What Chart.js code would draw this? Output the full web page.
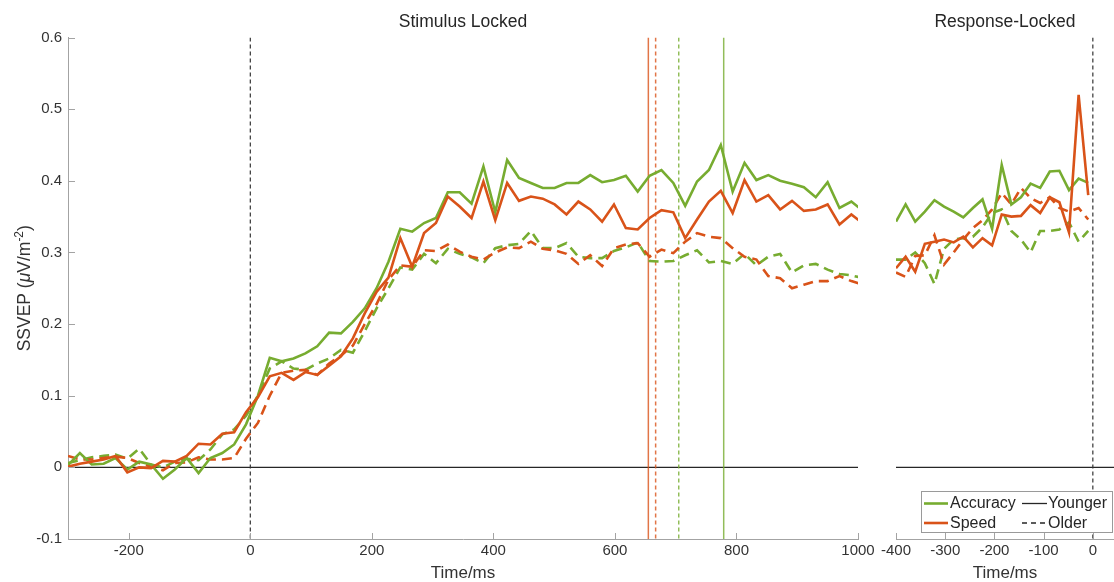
<!DOCTYPE html>
<html>
<head>
<meta charset="utf-8">
<title>SSVEP by condition and age group</title>
<script src="https://cdn.jsdelivr.net/npm/chart.js@4.4.1/dist/chart.umd.min.js"></script>
<style>
  html, body { margin: 0; padding: 0; background: #fff; overflow: hidden; }
  #wrap { position: relative; width: 1114px; height: 582px; }
  #stim { position: absolute; left: 0; top: 0; }
  #resp { position: absolute; left: 870px; top: 0; }
</style>
</head>
<body>
<div id="wrap">
  <canvas id="stim" width="886" height="582"></canvas>
  <canvas id="resp" width="244" height="582"></canvas>
</div>
<script>
// ---- sampling grid (51.2 Hz) ----
const SAMPLE_MS = 1000 / 51.2;
const STIM_START_MS = -300;
const RESP_START_MS = -400;

// ---- legend / grouping ----
const conditions = ['Accuracy', 'Speed'];
const groups = ['Younger', 'Older'];

// ---- stimulus-locked SSVEP (uV/m^2) ----
const accYoungStim = [
  0.003, 0.020, 0.004, 0.005, 0.013, -0.003, 0.008, 0.004, -0.016, -0.003,
  0.013, -0.008, 0.013, 0.020, 0.032, 0.060, 0.100, 0.153, 0.148, 0.152,
  0.159, 0.169, 0.188, 0.187, 0.203, 0.222, 0.250, 0.287, 0.333, 0.329,
  0.341, 0.348, 0.384, 0.384, 0.368, 0.420, 0.356, 0.429, 0.404, 0.397,
  0.390, 0.390, 0.397, 0.397, 0.408, 0.398, 0.401, 0.407, 0.385, 0.407,
  0.415, 0.397, 0.365, 0.399, 0.415, 0.450, 0.385, 0.425, 0.401, 0.408,
  0.400, 0.396, 0.391, 0.377, 0.398, 0.362, 0.371, 0.358
];
const spdYoungStim = [
  0.001, 0.005, 0.008, 0.011, 0.016, -0.007, 0.000, -0.001, 0.009, 0.008,
  0.016, 0.033, 0.032, 0.047, 0.049, 0.077, 0.098, 0.127, 0.132, 0.122,
  0.133, 0.129, 0.142, 0.155, 0.180, 0.215, 0.245, 0.265, 0.320, 0.280,
  0.327, 0.341, 0.378, 0.364, 0.348, 0.399, 0.345, 0.397, 0.372, 0.378,
  0.375, 0.367, 0.353, 0.371, 0.360, 0.343, 0.367, 0.334, 0.332, 0.348,
  0.359, 0.356, 0.320, 0.346, 0.371, 0.386, 0.355, 0.401, 0.371, 0.380,
  0.360, 0.372, 0.358, 0.360, 0.367, 0.339, 0.353, 0.340
];
const accOldStim = [
  0.006, 0.010, 0.014, 0.016, 0.018, 0.012, 0.026, 0.004, 0.000, 0.008,
  0.012, 0.010, 0.025, 0.046, 0.053, 0.072, 0.100, 0.138, 0.148, 0.138,
  0.136, 0.145, 0.152, 0.164, 0.160, 0.190, 0.222, 0.250, 0.279, 0.276,
  0.298, 0.285, 0.305, 0.298, 0.293, 0.285, 0.306, 0.310, 0.312, 0.330,
  0.306, 0.306, 0.313, 0.294, 0.292, 0.292, 0.302, 0.307, 0.314, 0.288,
  0.287, 0.288, 0.296, 0.303, 0.286, 0.288, 0.284, 0.298, 0.282, 0.294,
  0.298, 0.272, 0.282, 0.284, 0.276, 0.270, 0.268, 0.264
];
const spdOldStim = [
  0.016, 0.011, 0.011, 0.013, 0.015, 0.013, 0.006, 0.001, -0.004, 0.006,
  0.007, 0.014, 0.011, 0.011, 0.013, 0.040, 0.062, 0.100, 0.132, 0.135,
  0.136, 0.129, 0.145, 0.156, 0.170, 0.200, 0.228, 0.262, 0.282, 0.280,
  0.303, 0.302, 0.311, 0.301, 0.294, 0.290, 0.300, 0.307, 0.306, 0.315,
  0.305, 0.303, 0.298, 0.284, 0.296, 0.281, 0.306, 0.311, 0.313, 0.294,
  0.304, 0.299, 0.315, 0.327, 0.322, 0.320, 0.306, 0.294, 0.290, 0.267,
  0.264, 0.250, 0.255, 0.260, 0.260, 0.267, 0.260, 0.255
];

// ---- response-locked SSVEP ----
const accYoungResp = [0.343, 0.367, 0.343, 0.357, 0.373, 0.364, 0.357, 0.349, 0.362, 0.374, 0.333,
                      0.422, 0.367, 0.377, 0.396, 0.390, 0.413, 0.414, 0.387, 0.403, 0.397];
const spdYoungResp = [0.278, 0.294, 0.273, 0.312, 0.315, 0.318, 0.314, 0.322, 0.307, 0.320, 0.310,
                      0.353, 0.350, 0.351, 0.366, 0.355, 0.377, 0.370, 0.328, 0.520, 0.380];
const accOldResp   = [0.290, 0.290, 0.300, 0.285, 0.256, 0.305, 0.318, 0.320, 0.322, 0.335, 0.355,
                      0.360, 0.330, 0.318, 0.300, 0.330, 0.330, 0.332, 0.342, 0.315, 0.330];
const spdOldResp   = [0.272, 0.266, 0.295, 0.296, 0.324, 0.283, 0.300, 0.318, 0.334, 0.345, 0.360,
                      0.383, 0.367, 0.390, 0.376, 0.369, 0.377, 0.362, 0.357, 0.362, 0.346];

// ---- mean response times (ms) ----
const rtConditions = ['Speed', 'Speed', 'Accuracy', 'Accuracy'];
const rtGroups     = ['Younger', 'Older', 'Older', 'Younger'];
const rtValues     = [655, 667, 705, 779];

// ---- axes ----
const yTickValues = [-0.1, 0, 0.1, 0.2, 0.3, 0.4, 0.5, 0.6];
const stimTickValues = [-200, 0, 200, 400, 600, 800, 1000];
const respTickValues = [-400, -300, -200, -100, 0];

const stimTimes = accYoungStim.map((_, i) => STIM_START_MS + i * SAMPLE_MS);
const respTimes = accYoungResp.map((_, i) => RESP_START_MS + i * SAMPLE_MS);

// ---- styling ----
const FONT = '"Liberation Sans", Arial, Helvetica, sans-serif';
const COLORS = { Accuracy: '#77AC30', Speed: '#D95319' };
const RT_COLORS = { Accuracy: 'rgba(119,172,48,0.8)', Speed: 'rgba(217,83,25,0.8)' };
const AXIS_COLOR = '#a3a3a3';
const TEXT_COLOR = '#333333';
const INK = '#262626';
const DATA_DASH = [10, 6];
const THIN_DASH = [4, 3];
const PLOT_TOP = 37.5;
const XAXIS_H = 43;

Chart.defaults.font.family = FONT;

function series(times, vals, cond, group) {
  return {
    label: cond + ' ' + group,
    data: vals.map((v, i) => ({ x: times[i], y: v })),
    borderColor: COLORS[cond],
    borderWidth: 2.6,
    borderDash: group === 'Older' ? DATA_DASH : [],
    pointRadius: 0,
    tension: 0,
    fill: false
  };
}
function vline(t, color, dash, width) {
  return {
    data: [{ x: t, y: yTickValues[yTickValues.length - 1] }, { x: t, y: yTickValues[0] }],
    borderColor: color, borderWidth: width, borderDash: dash,
    pointRadius: 0, fill: false
  };
}
function hline(x0, x1, y) {
  return {
    data: [{ x: x0, y: y }, { x: x1, y: y }],
    borderColor: INK, borderWidth: 1.3, pointRadius: 0, fill: false
  };
}

function fixedTicks(values) {
  return s => { s.ticks = values.map(v => ({ value: v })); };
}

// inward tick marks
function drawInwardTicks(chart, xValues, withY) {
  const { ctx, chartArea: a, scales: { x, y } } = chart;
  ctx.save();
  ctx.strokeStyle = AXIS_COLOR;
  ctx.lineWidth = 1;
  ctx.beginPath();
  xValues.forEach(v => {
    const px = Math.round(x.getPixelForValue(v)) + 0.5;
    ctx.moveTo(px, a.bottom);
    ctx.lineTo(px, a.bottom - 6);
  });
  if (withY) {
    yTickValues.forEach(v => {
      const py = Math.round(y.getPixelForValue(v)) + 0.5;
      ctx.moveTo(a.left, py);
      ctx.lineTo(a.left + 7, py);
    });
  }
  ctx.stroke();
  ctx.restore();
}

function drawPanelTitle(chart, text) {
  const { ctx, chartArea: a } = chart;
  ctx.save();
  ctx.fillStyle = INK;
  ctx.font = '17.5px ' + FONT;
  ctx.textAlign = 'center';
  ctx.textBaseline = 'middle';
  ctx.fillText(text, (a.left + a.right) / 2, 22);
  ctx.restore();
}

// SSVEP (μV/m^-2), rotated, with italic mu and a superscript
function drawYLabel(chart) {
  const { ctx, chartArea: a } = chart;
  const base = '17.5px ' + FONT;
  const parts = [
    { t: 'SSVEP (', f: base, dy: 0 },
    { t: '\u03BC', f: 'italic ' + base, dy: 0 },
    { t: 'V/m', f: base, dy: 0 },
    { t: '-2', f: '12px ' + FONT, dy: -7 },
    { t: ')', f: base, dy: 0 }
  ];
  ctx.save();
  let total = 0;
  parts.forEach(p => { ctx.font = p.f; p.w = ctx.measureText(p.t).width; total += p.w; });
  ctx.translate(30, (a.top + a.bottom) / 2);
  ctx.rotate(-Math.PI / 2);
  ctx.fillStyle = TEXT_COLOR;
  ctx.textBaseline = 'alphabetic';
  ctx.textAlign = 'left';
  let xx = -total / 2;
  parts.forEach(p => { ctx.font = p.f; ctx.fillText(p.t, xx, p.dy); xx += p.w; });
  ctx.restore();
}

function drawLegend(chart) {
  const { ctx, chartArea: a } = chart;
  const boxR = a.right - 2, boxB = a.bottom - 7;
  const boxW = 191, boxH = 41;
  const boxL = boxR - boxW, boxT = boxB - boxH;
  ctx.save();
  ctx.fillStyle = '#ffffff';
  ctx.fillRect(boxL, boxT, boxW, boxH);
  ctx.strokeStyle = '#9a9a9a';
  ctx.lineWidth = 1;
  ctx.strokeRect(Math.round(boxL) + 0.5, Math.round(boxT) + 0.5, Math.round(boxW), Math.round(boxH));
  ctx.font = '16px ' + FONT;
  ctx.textBaseline = 'middle';
  ctx.textAlign = 'left';
  const rows = [boxT + 12.5, boxT + 32];
  const col1 = boxL + 3, col2 = boxL + 101;
  conditions.forEach((c, i) => {
    ctx.strokeStyle = COLORS[c];
    ctx.lineWidth = 2.6;
    ctx.setLineDash([]);
    ctx.beginPath(); ctx.moveTo(col1, rows[i]); ctx.lineTo(col1 + 24, rows[i]); ctx.stroke();
    ctx.fillStyle = INK;
    ctx.fillText(c, col1 + 26, rows[i] + 0.5);
  });
  groups.forEach((g, i) => {
    ctx.strokeStyle = INK;
    ctx.lineWidth = 1.3;
    ctx.setLineDash(g === 'Older' ? [5, 4] : []);
    ctx.beginPath(); ctx.moveTo(col2, rows[i]); ctx.lineTo(col2 + 25, rows[i]); ctx.stroke();
    ctx.fillStyle = INK;
    ctx.fillText(g, col2 + 26, rows[i] + 0.5);
  });
  ctx.restore();
}

function xAxis(min, max, tickValues) {
  return {
    type: 'linear', min: min, max: max,
    afterBuildTicks: fixedTicks(tickValues),
    grid: { display: false, drawTicks: false },
    border: { display: true, color: AXIS_COLOR, width: 1 },
    ticks: { color: TEXT_COLOR, font: { size: 15 }, padding: 3, maxRotation: 0, minRotation: 0, autoSkip: false,
             callback: v => String(v) },
    title: { display: true, text: 'Time/ms', color: TEXT_COLOR, font: { size: 17, lineHeight: 1.05 },
             padding: { top: 0, bottom: 0 } },
    afterFit: s => { s.height = XAXIS_H; s.paddingLeft = 0; s.paddingRight = 0; }
  };
}

const baseOptions = {
  responsive: false,
  animation: false,
  events: [],
  plugins: { legend: { display: false }, tooltip: { enabled: false }, title: { display: false } }
};

// ---- stimulus-locked panel ----
const stimDatasets = [
  series(stimTimes, spdYoungStim, 'Speed', 'Younger'),
  series(stimTimes, accYoungStim, 'Accuracy', 'Younger'),
  series(stimTimes, spdOldStim, 'Speed', 'Older'),
  series(stimTimes, accOldStim, 'Accuracy', 'Older'),
  ...rtValues.map((t, i) => vline(t, RT_COLORS[rtConditions[i]], rtGroups[i] === 'Older' ? THIN_DASH : [], 1.5)),
  vline(0, '#333333', THIN_DASH, 1.2),
  hline(STIM_START_MS, 1000, 0)
];

new Chart(document.getElementById('stim'), {
  type: 'line',
  data: { datasets: stimDatasets },
  options: Object.assign({}, baseOptions, {
    layout: { padding: { left: 0, right: 28, top: PLOT_TOP, bottom: 0 } },
    scales: {
      x: xAxis(STIM_START_MS, 1000, stimTickValues),
      y: {
        min: -0.1, max: 0.6,
        afterBuildTicks: fixedTicks(yTickValues),
        grid: { display: false, drawTicks: false },
        border: { display: true, color: AXIS_COLOR, width: 1 },
        ticks: { color: TEXT_COLOR, font: { size: 15 }, padding: 6,
                 callback: v => String(Math.round(v * 10) / 10) },
        afterFit: s => { s.width = 68; s.paddingTop = 0; s.paddingBottom = 0; }
      }
    }
  }),
  plugins: [{
    id: 'stimDecor',
    afterDraw(chart) {
      drawInwardTicks(chart, stimTickValues, true);
      drawPanelTitle(chart, 'Stimulus Locked');
      drawYLabel(chart);
    }
  }]
});

// ---- response-locked panel ----
const RESP_MAX = 43;
const respDatasets = [
  series(respTimes, spdYoungResp, 'Speed', 'Younger'),
  series(respTimes, accYoungResp, 'Accuracy', 'Younger'),
  series(respTimes, spdOldResp, 'Speed', 'Older'),
  series(respTimes, accOldResp, 'Accuracy', 'Older'),
  vline(0, '#333333', THIN_DASH, 1.2),
  hline(RESP_START_MS, RESP_MAX, 0)
];

new Chart(document.getElementById('resp'), {
  type: 'line',
  data: { datasets: respDatasets },
  options: Object.assign({}, baseOptions, {
    layout: { padding: { left: 26, right: 0, top: PLOT_TOP, bottom: 0 } },
    scales: {
      x: xAxis(RESP_START_MS, RESP_MAX, respTickValues),
      y: { display: false, min: -0.1, max: 0.6 }
    }
  }),
  plugins: [{
    id: 'respDecor',
    afterDraw(chart) {
      drawInwardTicks(chart, respTickValues, false);
      drawPanelTitle(chart, 'Response-Locked');
      drawLegend(chart);
    }
  }]
});
</script>
</body>
</html>
